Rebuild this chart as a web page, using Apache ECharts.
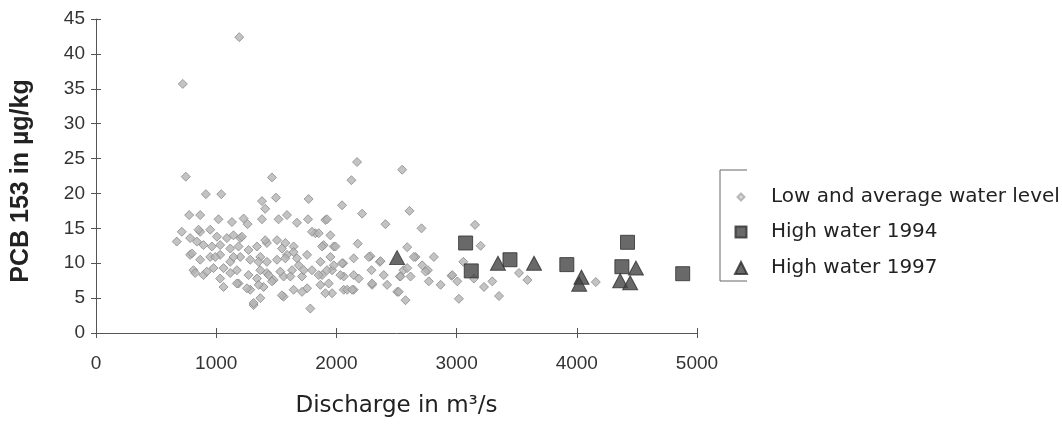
<!DOCTYPE html>
<html>
<head>
<meta charset="utf-8">
<script src="https://cdn.jsdelivr.net/npm/echarts@6/dist/echarts.min.js"></script>
<style>html,body{margin:0;padding:0;background:#fff;}#c{width:1062px;height:425px;}</style>
</head>
<body>
<div id="c"></div>
<script>
var xTicks = [0, 1000, 2000, 3000, 4000, 5000];
var yTicks = [0, 5, 10, 15, 20, 25, 30, 35, 40, 45];
var seriesNames = ['Low and average water level', 'High water 1994', 'High water 1997'];

var lowAverage = [
[1192,42.4],[722,35.7],
[747,22.4],[1464,22.3],[914,19.9],[1042,19.9],[1381,18.9],[1497,19.4],[1769,19.2],[1408,17.8],[775,16.9],[867,16.9],[1019,16.3],[1131,15.9],[1228,16.4],[1261,15.6],[1381,16.3],[1519,16.3],[1589,16.9],[1672,15.8],[1764,16.3],[1908,16.2],[2047,18.3],
[2172,24.5],[2547,23.4],[2125,21.9],[2214,17.1],[2608,17.5],[1922,16.3],[2408,15.6],[2708,15.0],[3153,15.5],[3200,12.5],[2178,12.8],[2811,10.9],[2589,12.3],[2658,10.9],[2144,10.7],[2056,10.0],[2361,10.2],[2283,11.0],[2292,9.0],[2394,8.3],[2528,8.1],[2617,8.1],[2761,9.0],[2714,9.7],[2558,9.0],[2422,6.9],[2297,6.9],[2186,7.8],[2144,6.2],[2061,6.2],[2506,5.9],[2575,4.7],[2867,6.9],[2769,7.4],[2958,8.2],[3006,7.4],[3019,4.9],[3056,10.2],[3228,6.6],[3297,7.4],[3353,5.3],[3519,8.6],[3589,7.6],[4158,7.3],[3144,7.8],
[714,14.5],[672,13.1],[783,13.6],[867,14.5],[950,14.8],[1006,13.8],[1089,13.6],[1144,14.0],[1200,13.6],[839,13.1],[894,12.6],[964,12.4],[1033,12.6],[1117,12.1],[1186,12.4],[1269,11.9],[1339,12.4],[1422,12.9],[1506,13.3],[1575,12.9],[1644,12.4],[1825,14.3],[1950,14.0],[1894,12.6],[1978,12.4],[783,11.2],[867,10.5],[950,10.9],[1033,11.2],[1117,10.2],[1200,10.9],[1283,10.5],[1367,10.9],[1422,10.2],[1506,10.5],[1589,11.2],[1672,10.7],[1756,11.2],[1867,10.2],[1950,10.9],[2047,10.0],[811,9.0],[894,8.3],[978,9.3],[1033,7.8],[1117,8.6],[1186,7.1],[1269,8.3],[1339,7.8],[1422,8.6],[1478,7.6],[1561,8.1],[1631,9.0],[1714,8.1],[1797,9.0],[1881,8.3],[1964,9.0],[2061,8.1],[2144,8.3],[1061,6.6],[1283,6.2],[1394,6.6],[1561,5.2],[1644,6.2],[1756,6.4],[1867,6.9],[1964,5.7],[2089,6.2],[1783,3.5],[1311,4.0],[1367,5.0],
[853,14.8],[1214,13.8],[1408,13.3],[1547,12.1],[1644,11.6],[1797,14.5],[797,11.4],[992,10.9],[1144,10.9],[1353,10.2],[1575,10.7],[1686,9.7],[825,8.6],[922,8.8],[1061,9.3],[1172,9.0],[1367,9.0],[1436,8.3],[1533,8.8],[1617,8.1],[1728,9.0],[1172,7.1],[1256,6.4],[1353,6.9],[1464,7.4],[1547,5.4],[1714,5.9],[1311,4.3],
[1853,14.3],[1881,12.4],[1992,12.4],[2269,10.9],[2367,10.3],[2644,10.9],[1978,9.7],[1922,9.0],[2589,9.3],[2742,8.8],[1853,8.3],[2033,8.3],[2533,8.1],[1936,7.1],[2131,6.2],[2297,7.1],[2519,5.9],[2964,8.3],[1908,5.7]
];

var highWater1994 = [
[3075,12.9],[3122,8.9],[3444,10.5],[3917,9.8],[4422,13.0],[4375,9.5],[4881,8.5]
];

var highWater1997 = [
[2505,10.8],[3344,10.0],[3644,10.0],[4039,8.0],[4020,7.0],[4492,9.3],[4361,7.5],[4444,7.2]
];

var chart = echarts.init(document.getElementById('c'), null, {renderer: 'canvas'});
var axisColor = '#555';
var labelFont = 'Liberation Sans, Arial, sans-serif';
var textFont = 'DejaVu Sans, Verdana, sans-serif';

function legendFor(name, icon, size, centerY, color) {
  return {
    data: [{name: name, icon: icon, itemStyle: color ? {color: color, borderColor: '#aaa'} : undefined}],
    orient: 'vertical',
    left: 740 - size / 2,
    top: centerY - 12,
    itemWidth: size,
    itemHeight: size,
    padding: 0,
    selectedMode: false,
    textStyle: {fontFamily: textFont, fontSize: 20, color: '#222', lineHeight: 24,
      padding: [0, 0, 0, 25 - size / 2]}
  };
}

chart.setOption({
  animation: false,
  backgroundColor: '#fff',
  grid: {left: 96, right: 365, top: 19, bottom: 92, containLabel: false},
  legend: [
    legendFor(seriesNames[0], 'diamond', 7, 197, '#cfcfcf'),
    legendFor(seriesNames[1], 'rect', 11, 232),
    legendFor(seriesNames[2], 'triangle', 12, 268)
  ],
  graphic: [{
    type: 'polyline',
    shape: {points: [[747, 170], [720, 170], [720, 281], [747, 281]]},
    style: {stroke: '#666', lineWidth: 1, fill: null},
    silent: true
  }],
  xAxis: [{
    type: 'value', min: xTicks[0], max: xTicks[xTicks.length - 1], interval: 1000,
    name: 'Discharge in m³/s', nameLocation: 'middle', nameGap: 62,
    nameTextStyle: {fontFamily: textFont, fontSize: 23, color: '#222'},
    axisLine: {show: true, lineStyle: {color: axisColor, width: 1}},
    axisTick: {show: true, length: 5, lineStyle: {color: axisColor}},
    axisLabel: {fontFamily: labelFont, fontSize: 19, color: '#333', margin: 21,
      formatter: function (v) { return String(v); }},
    splitLine: {show: false}
  }, {
    type: 'value', min: xTicks[0], max: xTicks[xTicks.length - 1], interval: 1000, position: 'bottom',
    axisLine: {show: false},
    axisTick: {show: true, inside: true, length: 5, lineStyle: {color: axisColor}},
    axisLabel: {show: false}, splitLine: {show: false}
  }],
  yAxis: [{
    type: 'value', min: yTicks[0], max: yTicks[yTicks.length - 1], interval: 5,
    name: 'PCB 153 in µg/kg', nameLocation: 'middle', nameGap: 62, nameRotate: 90,
    nameTextStyle: {fontFamily: labelFont, fontSize: 25, fontWeight: 'bold', color: '#222',
      padding: [0, 0, 0, -10]},
    axisLine: {show: true, lineStyle: {color: axisColor, width: 1}},
    axisTick: {show: true, length: 5, lineStyle: {color: axisColor}},
    axisLabel: {fontFamily: labelFont, fontSize: 19, color: '#333', margin: 11},
    splitLine: {show: false}
  }, {
    type: 'value', min: yTicks[0], max: yTicks[yTicks.length - 1], interval: 5, position: 'left',
    axisLine: {show: false},
    axisTick: {show: true, inside: true, length: 5, lineStyle: {color: axisColor}},
    axisLabel: {show: false}, splitLine: {show: false}
  }],
  series: [{
    name: seriesNames[0], type: 'scatter', data: lowAverage,
    symbol: 'diamond', symbolSize: 9,
    itemStyle: {color: '#b4b4b4', borderColor: '#8a8a8a', borderWidth: 1}
  }, {
    name: seriesNames[1], type: 'scatter', data: highWater1994,
    symbol: 'rect', symbolSize: 14,
    itemStyle: {color: '#444', borderColor: '#2e2e2e', borderWidth: 1}
  }, {
    name: seriesNames[2], type: 'scatter', data: highWater1997,
    symbol: 'triangle', symbolSize: [15, 14],
    itemStyle: {color: '#444', borderColor: '#2e2e2e', borderWidth: 1}
  }]
});
</script>
</body>
</html>
